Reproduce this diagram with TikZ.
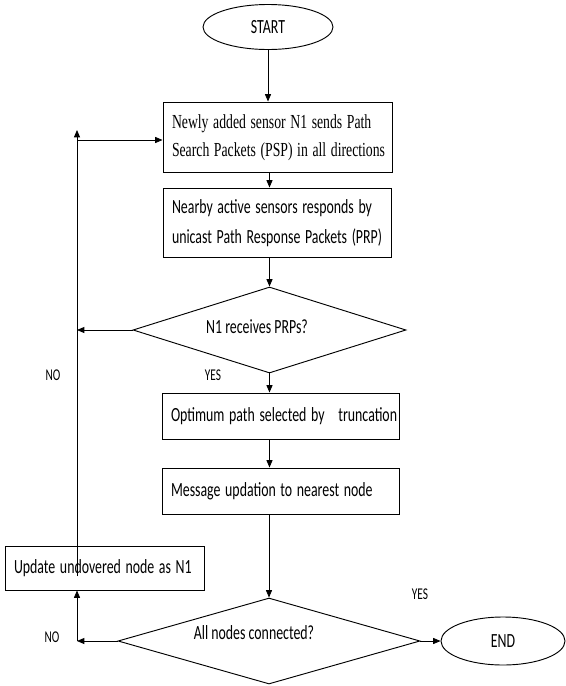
\documentclass[tikz,border=0pt]{standalone}
\usepackage{fontspec}
\setmainfont{Carlito}
\newfontfamily\serfam{Liberation Serif}
\usetikzlibrary{shapes.geometric,arrows.meta,calc}
\newcommand{\vs}[1]{\scalebox{1}[1.45]{#1}}
\newcommand{\twol}[2]{\scalebox{1}[1.45]{\begin{tabular}{@{}l@{}}#1\\#2\end{tabular}}}
\begin{document}
\begin{tikzpicture}[x=0.75pt,y=-0.75pt,
  font=\fontsize{10.4}{15.5}\selectfont,
  box/.style={draw, line width=0.7pt, rectangle, inner xsep=6.75pt, inner ysep=0pt, align=left},
  term/.style={draw, line width=0.7pt, ellipse, inner sep=0pt},
  dec/.style={draw, line width=0.7pt, diamond, inner sep=0pt},
  lab/.style={font=\fontsize{8.5}{10}\selectfont, inner sep=0pt},
  arr/.style={-{Triangle[length=5.5pt,width=4.5pt]}, line width=0.6pt},
  ln/.style={line width=0.6pt}]
\useasboundingbox (0,0) rectangle (566,686);

\node[term, minimum width=97.5pt, minimum height=33.75pt] (st) at (268,27) {\vs{START}};
\node[box, text width=158.25pt, minimum height=52.5pt] (b1) at (277.5,137)
  {\serfam\fontsize{10.3}{14.5}\selectfont\twol{Newly added sensor N1 sends Path}{Search Packets (PSP) in all directions}};
\node[box, text width=157.5pt, minimum height=51.75pt] (b2) at (277,222.5)
  {\twol{Nearby active sensors responds by}{unicast Path Response Packets (PRP)}};
\node[dec, minimum width=204.75pt, minimum height=64.5pt] (d1) at (269.5,330) {};
\node[inner sep=0pt] (d1t) at (257,327) {\vs{N1 receives PRPs?}};
\node[box, text width=164.25pt, minimum height=34.5pt] (b3) at (280.5,416)
  {\vs{Optimum path selected by\ \ \ truncation}};
\node[box, text width=164.25pt, minimum height=34.5pt] (b4) at (280.5,491)
  {\vs{Message updation to nearest node}};
\node[box, text width=135.75pt, minimum height=33pt] (upd) at (104.5,568)
  {\vs{Update undovered node as N1}};
\node[dec, minimum width=226.5pt, minimum height=64.5pt] (d2) at (269,641) {};
\node[inner sep=0pt] (d2t) at (254,633) {\vs{All nodes connected?}};
\node[term, minimum width=93pt, minimum height=36pt] (en) at (503,641) {\vs{END}};

\node[lab] (no1) at (53,375) {\vs{NO}};
\node[lab] (yes1) at (213,375) {\vs{YES}};
\node[lab] (no2) at (52,637) {\vs{NO}};
\node[lab] (yes2) at (420,594) {\vs{YES}};

\coordinate (ltop) at (77,130);
\coordinate (tl) at (77,140);
\coordinate (lm) at (77,330);
\coordinate (lb) at (77,641);

\draw[arr] (st.south) -- (b1.north -| st.south);
\draw[arr] (b1.south -| d1.north) -- (b2.north -| d1.north);
\draw[arr] (b2.south -| d1.north) -- (d1.north);
\draw[arr] (d1.south) -- (b3.north -| d1.south);
\draw[arr] (b3.south -| d1.south) -- (b4.north -| d1.south);
\draw[arr] (b4.south -| d2.north) -- (d2.north);
\draw[arr] (d2.east) -- (en.west);
\draw[arr] (d2.west) -- (lb);
\draw[arr] (lb) -- (upd.south -| lb);
\draw[arr] ($(upd.center -| lb)+(0,8)$) -- (ltop);
\draw[arr] (tl) -- (tl -| b1.west);
\draw[arr] (d1.west) -- (lm);
\end{tikzpicture}
\end{document}
